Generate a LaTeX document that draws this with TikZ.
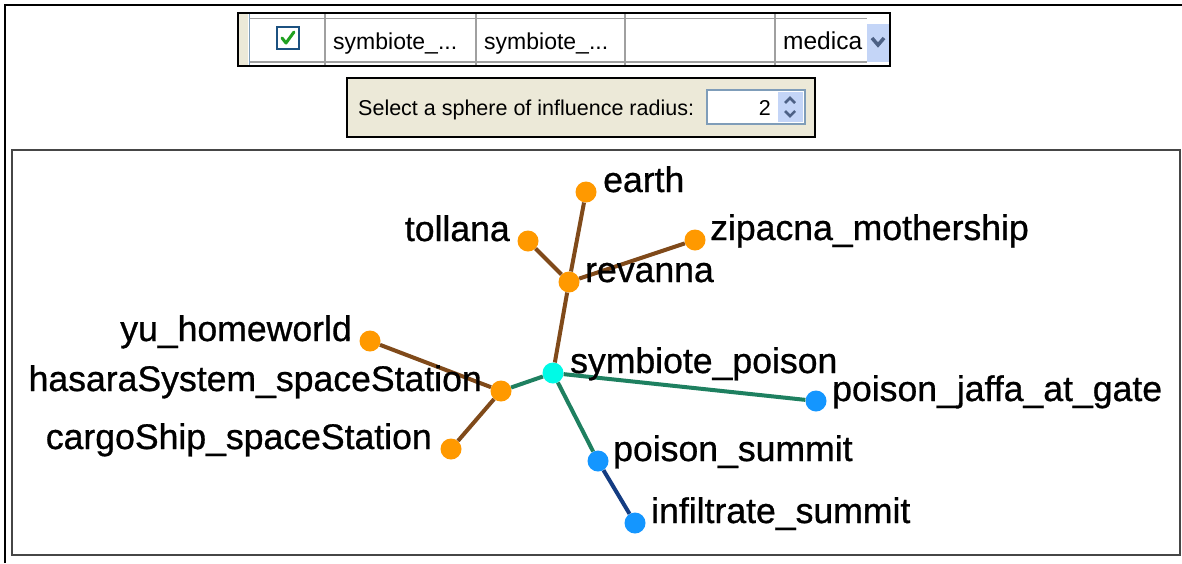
\documentclass[tikz,border=0pt]{standalone}
\usepackage{fontspec}
\setmainfont{Liberation Sans}
\newfontfamily\lblfont[FakeBold=0.8]{Liberation Sans}
\definecolor{orangeN}{RGB}{255,153,0}
\definecolor{brownE}{RGB}{128,74,26}
\definecolor{greenE}{RGB}{30,128,96}
\definecolor{blueN}{RGB}{20,150,255}
\definecolor{cyanN}{RGB}{0,250,230}
\definecolor{navyE}{RGB}{20,60,130}
\definecolor{beige}{RGB}{236,233,216}
\definecolor{gridgrey}{RGB}{160,160,160}
\definecolor{btnblue}{RGB}{196,213,247}
\definecolor{arrowblue}{RGB}{77,97,133}
\definecolor{fieldborder}{RGB}{127,157,185}
\definecolor{panelgrey}{RGB}{70,70,70}
\begin{document}
\begin{tikzpicture}[x=1pt,y=-1pt,
  dot/.style={circle,inner sep=0pt,minimum size=21pt,draw=none},
  dotO/.style={dot,fill=orangeN},
  dotB/.style={dot,fill=blueN},
  dotC/.style={dot,fill=cyanN},
  lbl/.style={inner sep=0pt,font=\lblfont\fontsize{35.6}{40}\selectfont},
  lblR/.style={lbl,anchor=base west},
  lblL/.style={lbl,anchor=base east},
  edgeB/.style={draw=brownE,line width=4pt},
  edgeG/.style={draw=greenE,line width=4pt},
  edgeN/.style={draw=navyE,line width=4pt},
  uitext/.style={inner sep=0pt,anchor=base west},
  gridline/.style={draw=gridgrey,line width=1.5pt}
]
\useasboundingbox (0,0) rectangle (1182,563);
\fill[white] (0,0) rectangle (1182,563);
% outer frame
\draw[line width=2.5pt,black] (5,563) -- (5,5) -- (1182,5);

% table row
\fill[white] (238,13) rectangle (890,66);
\fill[beige] (239,14) rectangle (248,65);
\draw[draw=fieldborder,line width=1.5pt] (249.5,14) -- (249.5,65);
\draw[gridline] (250,18.5) -- (867,18.5);
\draw[gridline] (250,62) -- (867,62);
\foreach \xx in {325,476,625,775} \draw[gridline] (\xx,14) -- (\xx,65);
\node[draw={rgb,255:red,28;green,81;blue,128},line width=2pt,fill=white,minimum size=22pt,inner sep=0pt] (chk) at (288,38) {};
\draw[draw={rgb,255:red,33;green,161;blue,33},line width=3pt,line cap=round,line join=round]
  ([shift={(-6,0)}]chk.center) -- ([shift={(-2,5)}]chk.center) -- ([shift={(6,-6)}]chk.center);
\node[uitext,font=\fontsize{23}{26}\selectfont] (c1) at (333,49) {symbiote\_...};
\node[uitext,font=\fontsize{23}{26}\selectfont] (c2) at (484,49) {symbiote\_...};
\node[uitext,font=\fontsize{24.5}{27}\selectfont] (c4) at (783,49) {medica};
\fill[btnblue] (867,24) rectangle (889,62);
\draw[draw=arrowblue,line width=3.5pt] (872,38) -- (878,45) -- (884,38);
\draw[black,line width=2pt] (238,13) rectangle (890,66);

% spinner panel
\draw[fill=beige,draw=black,line width=2pt] (347,78) rectangle (815,137);
\node[uitext,font=\fontsize{21.5}{25}\selectfont] (sel) at (358,115) {Select a sphere of influence radius:};
\draw[fill=white,draw=fieldborder,line width=1.5pt] (707,90) rectangle (805,124);
\node[inner sep=0pt,anchor=base east,font=\fontsize{21.5}{25}\selectfont] (two) at (771,115) {2};
\fill[btnblue] (778,92) rectangle (803,122);
\draw[draw=arrowblue,line width=2.5pt] (785,103) -- (790,98) -- (795,103);
\draw[draw=arrowblue,line width=2.5pt] (785,111) -- (790,116) -- (795,111);

% graph panel
\draw[draw=panelgrey,line width=2.5pt] (12,150) rectangle (1180,555);

% nodes
\node[dotO] (earth) at (586,192) {};
\node[dotO] (tollana) at (528,241) {};
\node[dotO] (zipacna) at (695,240) {};
\node[dotO] (revanna) at (569,282) {};
\node[dotC] (symb) at (553,373) {};
\node[dotB] (jaffa) at (816,401) {};
\node[dotB] (psummit) at (598,461) {};
\node[dotB] (infil) at (635,523) {};
\node[dotO] (yu) at (370,341) {};
\node[dotO] (hasara) at (501,391) {};
\node[dotO] (cargo) at (451,449) {};

% edges
\draw[edgeB] (earth) -- (revanna);
\draw[edgeB] (tollana) -- (revanna);
\draw[edgeB] (zipacna) -- (revanna);
\draw[edgeB] (revanna) -- (symb);
\draw[edgeG] (symb) -- (hasara);
\draw[edgeB] (yu) -- (hasara);
\draw[edgeB] (cargo) -- (hasara);
\draw[edgeG] (symb) -- (jaffa);
\draw[edgeG] (symb) -- (psummit);
\draw[edgeN] (psummit) -- (infil);

% labels
\node[lblR] (Learth) at ([xshift=17pt]earth.center) {earth};
\node[lblL] (Ltollana) at ([xshift=-18pt]tollana.center) {tollana};
\node[lblR] (Lzipacna) at ([xshift=15pt]zipacna.center) {zipacna\_mothership};
\node[lblR] (Lrevanna) at ([xshift=16pt]revanna.center) {revanna};
\node[lblR] (Lsymb) at ([xshift=17pt]symb.center) {symbiote\_poison};
\node[lblR] (Ljaffa) at ([xshift=16pt]jaffa.center) {poison\_jaffa\_at\_gate};
\node[lblR] (Lpsummit) at ([xshift=15pt]psummit.center) {poison\_summit};
\node[lblR] (Linfil) at ([xshift=16pt]infil.center) {infiltrate\_summit};
\node[lblL] (Lyu) at ([xshift=-18pt]yu.center) {yu\_homeworld};
\node[lblL] (Lhasara) at ([xshift=-19pt]hasara.center) {hasaraSystem\_spaceStation};
\node[lblL] (Lcargo) at ([xshift=-19pt]cargo.center) {cargoShip\_spaceStation};
\end{tikzpicture}
\end{document}
